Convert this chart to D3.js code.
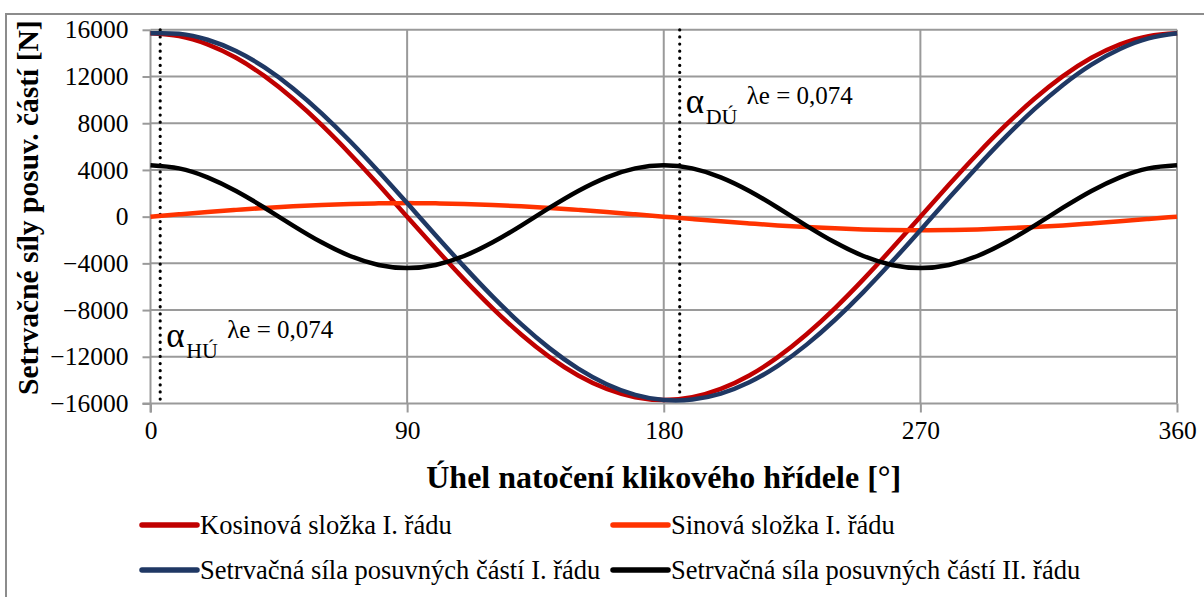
<!DOCTYPE html>
<html>
<head>
<meta charset="utf-8">
<script src="https://cdn.jsdelivr.net/npm/d3@7"></script>
<style>
  html, body { margin: 0; padding: 0; background: #fff; }
  svg { display: block; }
</style>
</head>
<body>
<svg id="chart" width="1204" height="597"></svg>
<script>
// Crank angle [°]
const angles = [0, 10, 20, 30, 40, 50, 60, 70, 80, 90, 100, 110, 120, 130, 140, 150, 160, 170, 180,
                190, 200, 210, 220, 230, 240, 250, 260, 270, 280, 290, 300, 310, 320, 330, 340, 350, 360];

// Inertia forces of reciprocating parts [N]
const kosinova = [15700, 15460, 14750, 13600, 12030, 10090, 7850, 5370, 2730, 0, -2730, -5370, -7850,
                  -10090, -12030, -13600, -14750, -15460, -15700, -15460, -14750, -13600, -12030, -10090,
                  -7850, -5370, -2730, 0, 2730, 5370, 7850, 10090, 12030, 13600, 14750, 15460, 15700];
const sinova = [0, 200, 400, 580, 750, 890, 1000, 1090, 1140, 1160, 1140, 1090, 1000, 890, 750, 580, 400,
                200, 0, -200, -400, -580, -750, -890, -1000, -1090, -1140, -1160, -1140, -1090, -1000, -890,
                -750, -580, -400, -200, 0];
const setrvacnaI = [15700, 15660, 15150, 14180, 12780, 10980, 8850, 6460, 3870, 1160, -1590, -4280, -6850,
                    -9200, -11280, -13020, -14350, -15260, -15700, -15660, -15150, -14180, -12780, -10980,
                    -8850, -6460, -3870, -1160, 1590, 4280, 6850, 9200, 11280, 13020, 14350, 15260, 15700];
const setrvacnaII = [4400, 4135, 3370, 2200, 765, -765, -2200, -3370, -4135, -4400, -4135, -3370, -2200,
                     -765, 765, 2200, 3370, 4135, 4400, 4135, 3370, 2200, 765, -765, -2200, -3370, -4135,
                     -4400, -4135, -3370, -2200, -765, 765, 2200, 3370, 4135, 4400];

const seriesNames = ["Kosinová složka I. řádu", "Sinová složka I. řádu",
                     "Setrvačná síla posuvných částí I. řádu", "Setrvačná síla posuvných částí II. řádu"];
const seriesColors = ["#c00000", "#ff3300", "#1f3864", "#000000"];

const xTicks = [0, 90, 180, 270, 360];
const yTicks = [-16000, -12000, -8000, -4000, 0, 4000, 8000, 12000, 16000];

// Dead-centre markers
const deadCentres = [
  { angle: 3.4, sub: "HÚ", sup: "λe = 0,074", yVal: -11200 },
  { angle: 185.6, sub: "DÚ", sup: "λe = 0,074", yVal: 8900 }
];

const FONT = '"Liberation Serif", "Times New Roman", Tinos, serif';

const svg = d3.select("#chart");
const x = d3.scaleLinear().domain([0, 360]).range([150.5, 1177]);
const y = d3.scaleLinear().domain([-16000, 16000]).range([403.5, 29.8]);

// Outer frame
svg.append("rect").attr("x", 6).attr("y", 14).attr("width", 1300).attr("height", 700)
  .attr("fill", "none").attr("stroke", "#8c8c8c").attr("stroke-width", 2);

const gridColor = "#9a9a9a";

// Horizontal gridlines
svg.append("g").selectAll("line").data(yTicks.filter(d => d !== -16000)).join("line")
  .attr("x1", x(0)).attr("x2", x(360))
  .attr("y1", d => y(d)).attr("y2", d => y(d))
  .attr("stroke", gridColor).attr("stroke-width", 2);

// Vertical gridlines
svg.append("g").selectAll("line").data(xTicks.filter(d => d !== 0)).join("line")
  .attr("x1", d => x(d)).attr("x2", d => x(d))
  .attr("y1", y(16000)).attr("y2", y(-16000))
  .attr("stroke", gridColor).attr("stroke-width", 2);

// Axes
const yAxis = d3.axisLeft(y).tickValues(yTicks).tickSize(8).tickPadding(14).tickFormat(d3.format("d"));
const xAxis = d3.axisBottom(x).tickValues(xTicks).tickSize(9).tickPadding(8).tickFormat(d3.format("d"));

const gy = svg.append("g").attr("transform", `translate(${x(0)},0)`).call(yAxis);
const gx = svg.append("g").attr("transform", `translate(0,${y(-16000)})`).call(xAxis);

[gx, gy].forEach(g => {
  g.attr("font-family", null).attr("font-size", null);
  g.select(".domain").attr("stroke", gridColor).attr("stroke-width", 2);
  g.selectAll(".tick line").attr("stroke", gridColor).attr("stroke-width", 2);
  g.selectAll(".tick text").style("font-family", FONT).style("font-size", "25.5px").attr("fill", "#000");
});
// left axis runs a little below the baseline, bottom axis a little left of the origin
gy.select(".domain").attr("d", `M0,${y(16000)}V${y(-16000) + 9}`);
gx.select(".domain").attr("d", `M${x(0) - 8},0H${x(360)}`);

// Dead-centre dotted lines
svg.append("g").selectAll("line").data(deadCentres).join("line")
  .attr("x1", d => x(d.angle)).attr("x2", d => x(d.angle))
  .attr("y1", y(16000)).attr("y2", y(-16000) - 2)
  .attr("stroke", "#000").attr("stroke-width", 3.2)
  .attr("stroke-linecap", "round").attr("stroke-dasharray", "0.1 7");

// Series lines
const line = d3.line().x((d, i) => x(angles[i])).y(d => y(d)).curve(d3.curveNatural);
const seriesData = [kosinova, sinova, setrvacnaI, setrvacnaII];
svg.append("g").selectAll("path").data(seriesData).join("path")
  .attr("d", d => line(d))
  .attr("fill", "none")
  .attr("stroke", (d, i) => seriesColors[i])
  .attr("stroke-width", 4.5)
  .attr("stroke-linejoin", "round");

// Dead-centre annotations
const ann = svg.append("g").selectAll("g").data(deadCentres).join("g")
  .attr("transform", d => `translate(${x(d.angle) + 6},${y(d.yVal)})`);
ann.append("text").style("font-family", FONT).style("font-size", "35px").text("α");
ann.append("text").attr("x", 20).attr("y", 11).style("font-family", FONT).style("font-size", "22px").text(d => d.sub);
ann.append("text").attr("x", 61).attr("y", -9).style("font-family", FONT).style("font-size", "25px").text(d => d.sup);

// Axis titles
svg.append("text")
  .attr("x", x(180)).attr("y", 488)
  .attr("text-anchor", "middle")
  .style("font-family", FONT).style("font-weight", "bold").style("font-size", "32px")
  .text("Úhel natočení klikového hřídele [°]");

svg.append("text")
  .attr("transform", `translate(38,${y(0) - 9}) rotate(-90)`)
  .attr("text-anchor", "middle")
  .style("font-family", FONT).style("font-weight", "bold").style("font-size", "29.5px")
  .text("Setrvačné síly posuv. částí [N]");

// Legend
const legendPos = [[142, 525], [613, 525], [142, 570], [613, 570]];
const lg = svg.append("g").selectAll("g").data(seriesNames).join("g")
  .attr("transform", (d, i) => `translate(${legendPos[i][0]},${legendPos[i][1]})`);
lg.append("line").attr("x1", 0).attr("x2", 55).attr("y1", 0).attr("y2", 0)
  .attr("stroke", (d, i) => seriesColors[i]).attr("stroke-width", 5.5).attr("stroke-linecap", "round");
lg.append("text").attr("x", 58).attr("y", 9)
  .style("font-family", FONT).style("font-size", "26.5px").text(d => d);
</script>
</body>
</html>
